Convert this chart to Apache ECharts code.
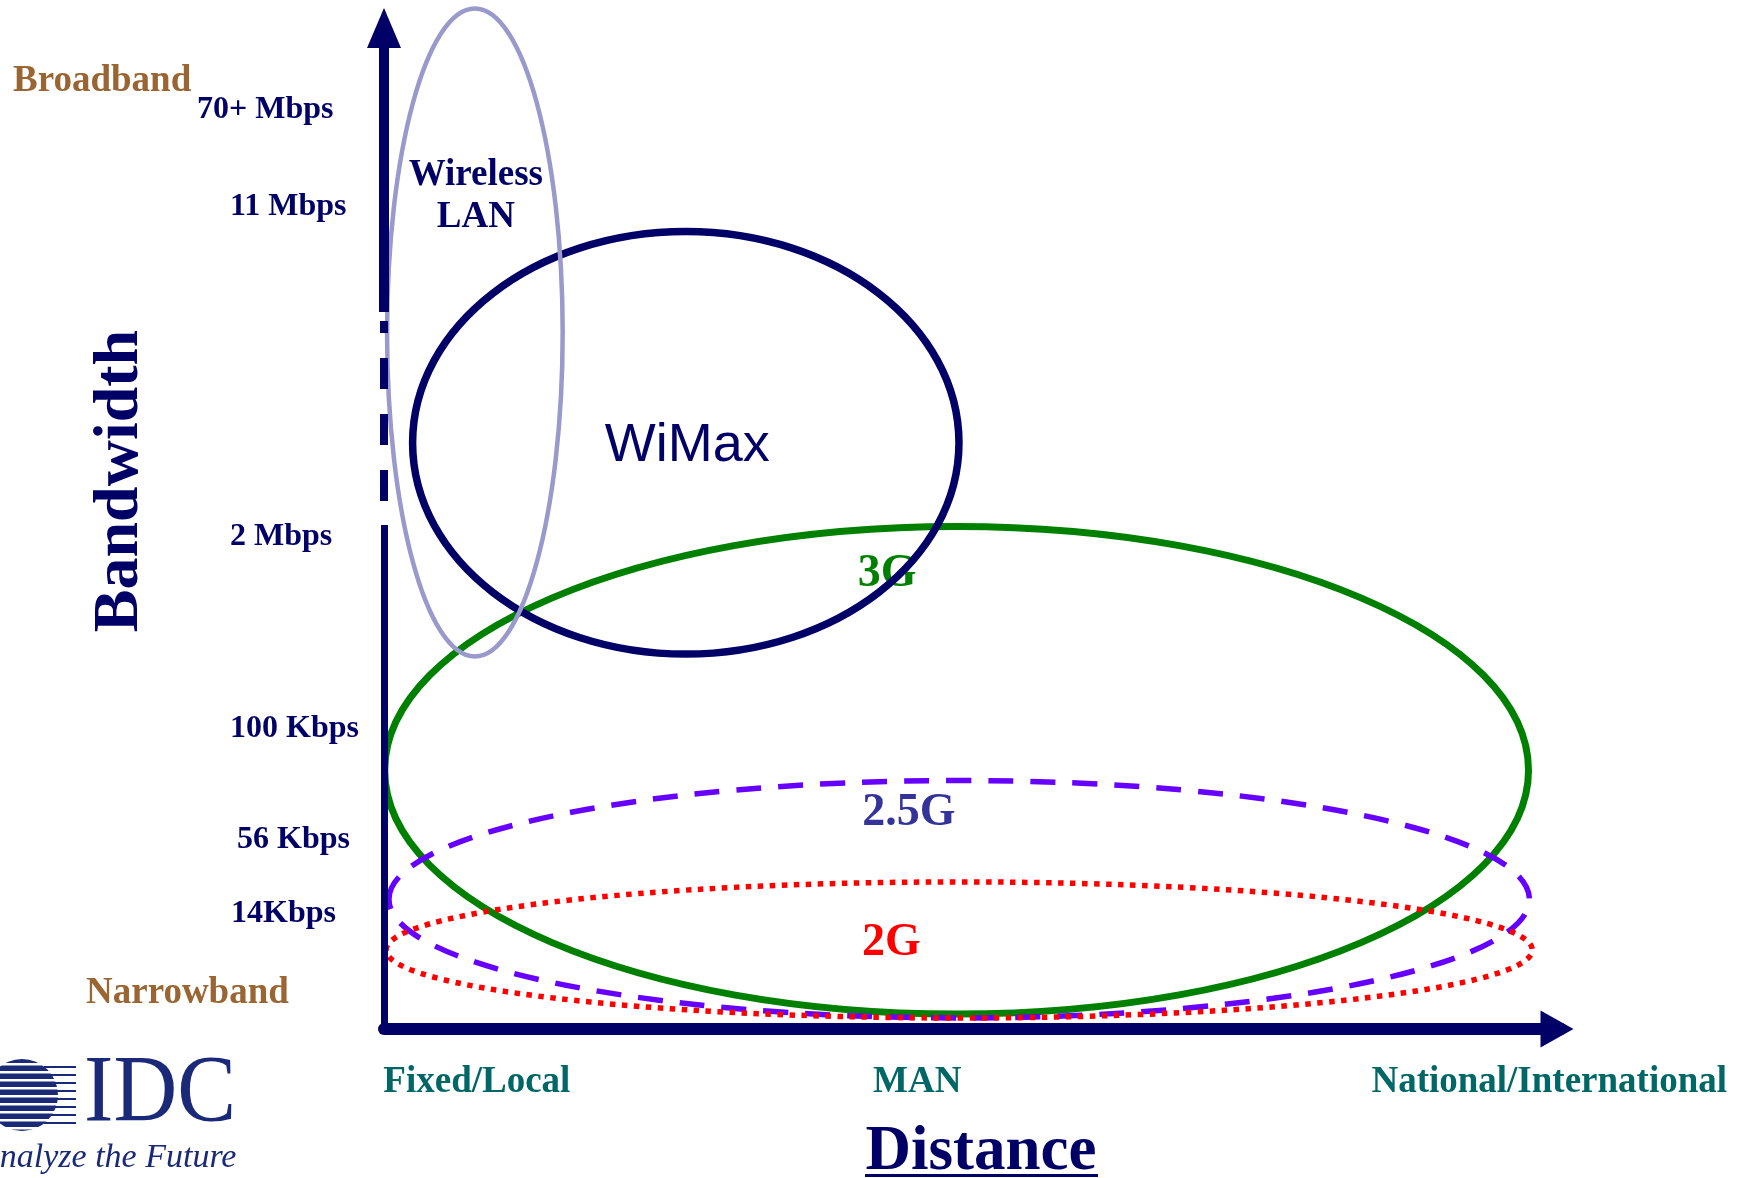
<!DOCTYPE html>
<html><head><meta charset="utf-8">
<script src="https://cdn.jsdelivr.net/npm/echarts@6/dist/echarts.min.js"></script>
<style>html,body{margin:0;padding:0;background:#fff}#c{width:1747px;height:1178px}</style>
</head><body><div id="c"></div>
<script>
// ---- data (distance units 0-100, bandwidth units 0-100) ----
const networks        = ['3G', '2.5G', '2G', 'WiMax', 'Wireless\nLAN'];
const centerDistance  = [48.65, 48.87, 48.87, 25.64, 7.72];
const centerBandwidth = [25.37, 12.72, 7.75, 57.47, 68.28];
const spreadDistance  = [48.59, 48.45, 48.69, 23.21, 7.46];
const spreadBandwidth = [23.90, 11.64, 6.67, 20.71, 31.76];
const labelDistance   = [42.75, 44.60, 43.10, 25.76, 7.80];
const labelBandwidth  = [44.60, 21.20, 8.40, 57.10, 81.66];

const bandwidthTicks      = ['70+ Mbps', '11 Mbps', '2 Mbps', '100 Kbps', '56 Kbps', '14Kbps'];
const bandwidthTickValues = [90.16, 80.65, 48.30, 29.47, 18.53, 11.30];
const distanceTicks       = ['Fixed/Local', 'MAN', 'National/International'];
const distanceTickValues  = [7.89, 45.3, 99.0];

// y-axis segments (bandwidth units)
const axisThick  = [70.29, 98.14];
const axisDashed = [69.41, 49.41];
const axisThin   = [49.41, 0];

// ---- styles ----
const NAVY = '#000066';
const styles = {
  '3G':   {stroke:'#008000', lineWidth:7,   dash:null,    text:'#008000', font:'bold 46px "Liberation Serif"'},
  '2.5G': {stroke:'#6600FF', lineWidth:5.5, dash:[25,17], text:'#333399', font:'bold 46px "Liberation Serif"'},
  '2G':   {stroke:'#FF0000', lineWidth:5.5, dash:[5.5,6.5], text:'#FF0000', font:'bold 46px "Liberation Serif"'},
  'WiMax':{stroke:NAVY,      lineWidth:7.5, dash:null,    text:NAVY,      font:'54px "Liberation Sans"'},
  'Wireless\nLAN':{stroke:'#9999CC', lineWidth:4.5, dash:null, text:NAVY, font:'bold 37px "Liberation Serif"', lineHeight:42}
};

function makeRender(name){
  const st = styles[name];
  return function(params, api){
    const c = api.coord([api.value(0), api.value(1)]);
    const s = api.size([api.value(2), api.value(3)]);
    const l = api.coord([api.value(4), api.value(5)]);
    return {type:'group', children:[
      {type:'text', x:l[0], y:l[1], style:{text:name, fill:st.text, font:st.font,
        align:'center', verticalAlign:'middle', textAlign:'center', textVerticalAlign:'middle',
        lineHeight: st.lineHeight || undefined}},
      {type:'ellipse', shape:{cx:c[0], cy:c[1], rx:s[0], ry:s[1]},
        style:{fill:'none', stroke:st.stroke, lineWidth:st.lineWidth, lineDash:st.dash || null}}
    ]};
  };
}

const series = networks.map(function(name, i){
  return {
    type:'custom', name:name, clip:false, silent:true, animation:false,
    renderItem: makeRender(name),
    data:[[centerDistance[i], centerBandwidth[i], spreadDistance[i], spreadBandwidth[i], labelDistance[i], labelBandwidth[i]]]
  };
});
series[0].markLine = {
  silent:true, animation:false, symbol:['none','none'], label:{show:false},
  data:[
    [{coord:[0, axisThick[0]], symbol:'none', lineStyle:{color:NAVY, width:10, type:'solid'}},
     {coord:[0, axisThick[1]], symbol:'triangle', symbolSize:[34,40]}],
    [{coord:[0, axisDashed[0]], symbol:'none', lineStyle:{color:NAVY, width:8, type:[31,25], dashOffset:19}},
     {coord:[0, axisDashed[1]], symbol:'none'}],
    [{coord:[0, axisThin[0]], symbol:'none', lineStyle:{color:NAVY, width:7, type:'solid'}},
     {coord:[0, axisThin[1]], symbol:'none'}]
  ]
};

const tickPad = [0, 33, 33, 33, 40, 34];
const rich = {};
tickPad.forEach(function(p, i){
  rich['p'+i] = {padding:[0,0,0,p], color:NAVY, fontFamily:'Liberation Serif', fontWeight:'bold', fontSize:32};
});

const LOGO = '#1B2A78';
const stripeY = [1063,1071,1079,1087,1095,1103,1111,1119,1127];
const graphic = [
  {type:'text', x:13, y:81, style:{text:'Broadband', fill:'#996633', font:'bold 37px "Liberation Serif"', align:'left', verticalAlign:'middle'}},
  {type:'text', x:86, y:993, style:{text:'Narrowband', fill:'#996633', font:'bold 37px "Liberation Serif"', align:'left', verticalAlign:'middle'}},
  {type:'text', x:120, y:481, rotation:Math.PI/2, style:{text:'Bandwidth', fill:NAVY, font:'bold 64px "Liberation Serif"', align:'center', verticalAlign:'middle'}},
  {type:'text', x:981, y:1153, style:{text:'Distance', fill:NAVY, font:'bold 63px "Liberation Serif"', align:'center', verticalAlign:'middle'}},
  {type:'rect', shape:{x:865, y:1174, width:233, height:3}, style:{fill:NAVY}},
  // IDC logo
  {type:'circle', shape:{cx:22, cy:1095, r:36}, style:{fill:LOGO}},
  {type:'group', children:stripeY.map(function(y){
    return {type:'rect', shape:{x:0, y:y, width:60, height:2.4}, style:{fill:'#fff'}};
  })},
  {type:'group', children:stripeY.slice(0, -1).map(function(y){
    return {type:'rect', shape:{x:44, y:y+3, width:32, height:2}, style:{fill:LOGO}};
  })},
  {type:'text', x:84, y:1144, scaleX:0.92, style:{text:'IDC', fill:LOGO, font:'96px "Liberation Serif"', align:'left', verticalAlign:'bottom'}},
  {type:'text', x:-21, y:1158, style:{text:'Analyze the Future', fill:LOGO, font:'italic 34px "Liberation Serif"', align:'left', verticalAlign:'middle'}}
];

const chart = echarts.init(document.getElementById('c'), null, {renderer:'canvas'});
chart.setOption({
  backgroundColor:'#fff',
  animation:false,
  grid:{left:384, top:9, width:1177, height:1020, containLabel:false},
  xAxis:{type:'value', min:0, max:100,
    axisLine:{show:true, symbol:['none','triangle'], symbolSize:[37,33], symbolOffset:[0,-4],
      lineStyle:{color:NAVY, width:12}},
    axisTick:{show:false}, splitLine:{show:false},
    axisLabel:{customValues:distanceTickValues, margin:35,
      formatter:function(v){ const i = distanceTickValues.indexOf(v); return i >= 0 ? distanceTicks[i] : ''; },
      color:'#006666', fontFamily:'Liberation Serif', fontWeight:'bold', fontSize:37}},
  yAxis:{type:'value', min:0, max:100,
    axisLine:{show:false}, axisTick:{show:false}, splitLine:{show:false},
    axisLabel:{customValues:bandwidthTickValues, align:'left', margin:187, rich:rich,
      formatter:function(v){ const i = bandwidthTickValues.indexOf(v); return i >= 0 ? '{p'+i+'|'+bandwidthTicks[i]+'}' : ''; },
      color:NAVY, fontFamily:'Liberation Serif', fontWeight:'bold', fontSize:32}},
  graphic:graphic,
  series:series
});
</script>
</body></html>
